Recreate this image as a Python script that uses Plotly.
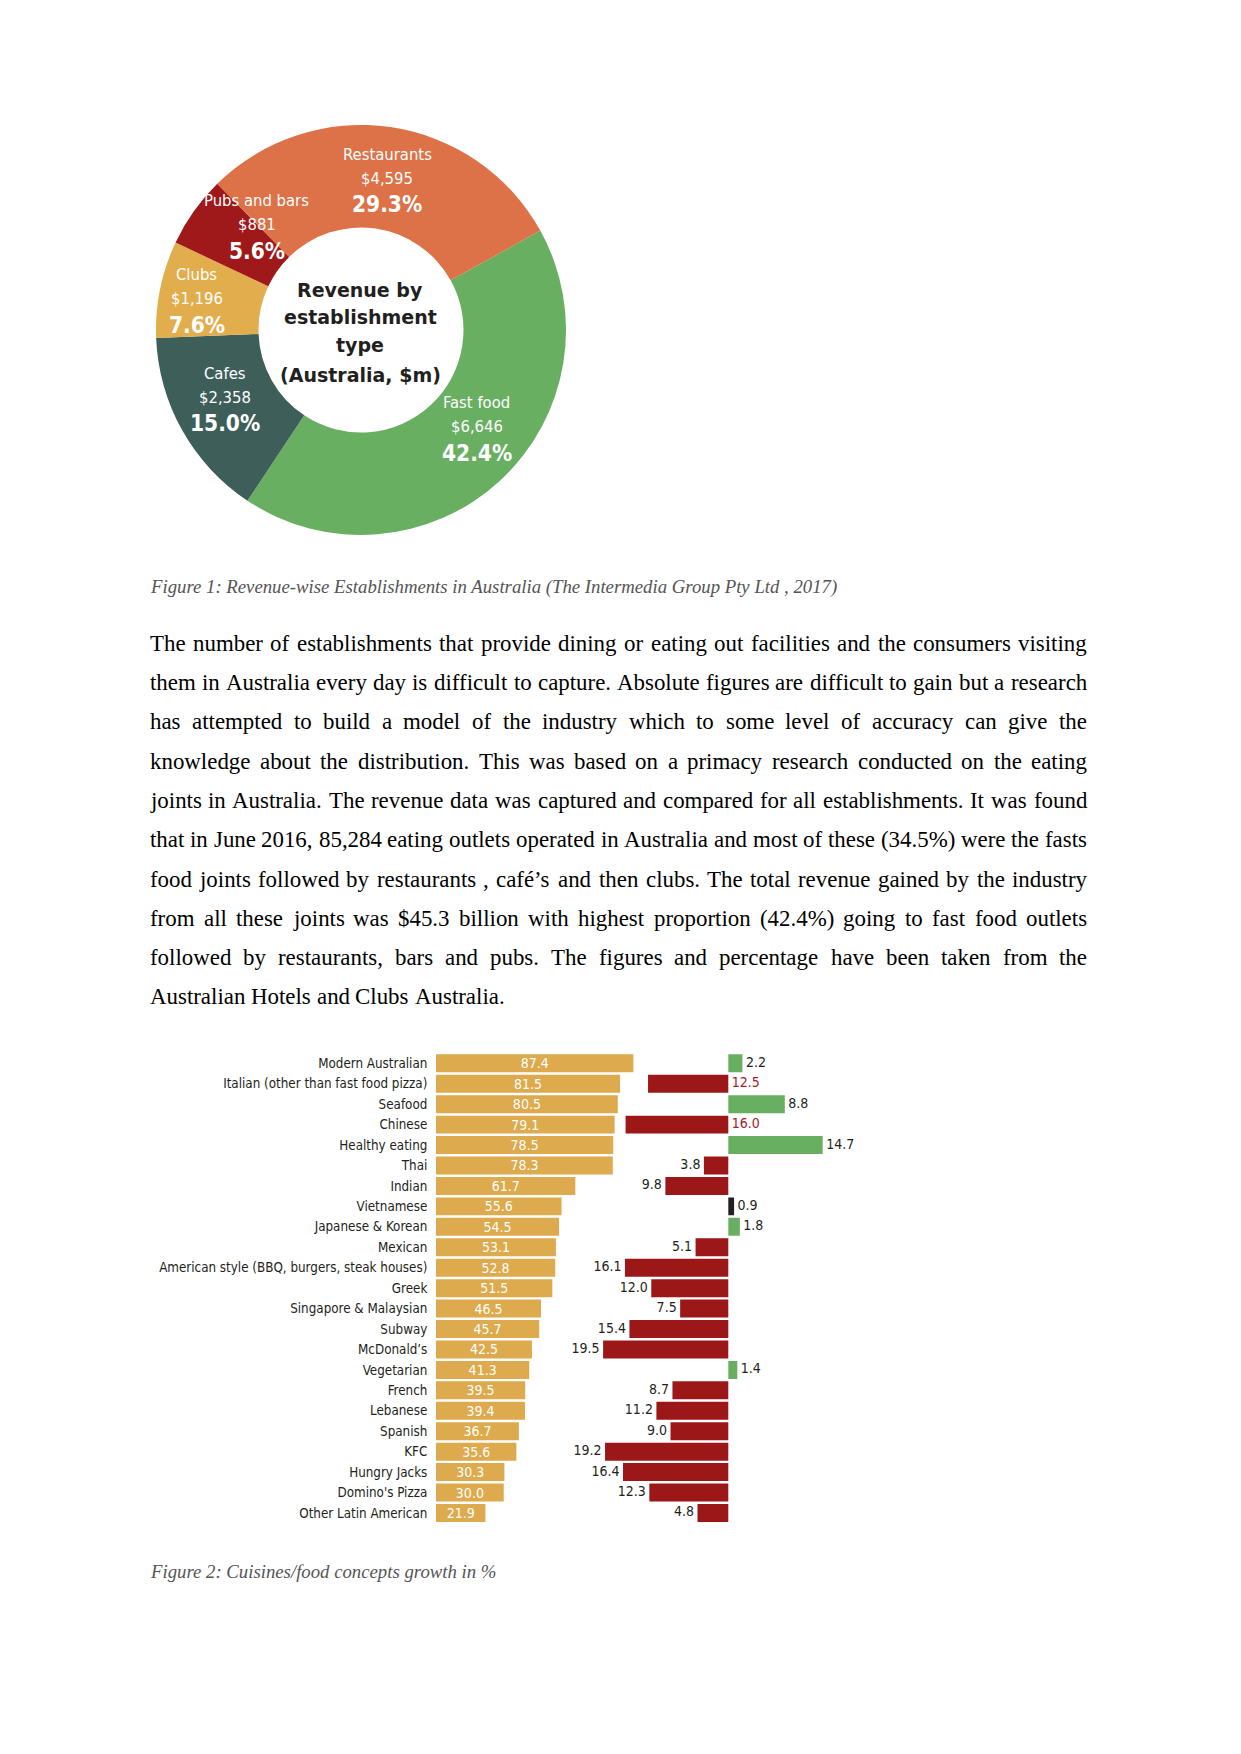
import math
import plotly.graph_objects as go

W, H = 1241, 1754

# ---------------- data ----------------
est_types = ["Fast food", "Cafes", "Clubs", "Pubs and bars", "Restaurants"]
est_revenue = [6646, 2358, 1196, 881, 4595]
donut_title = ["Revenue by", "establishment", "type", "(Australia, $m)"]

cuisines = ["Modern Australian", "Italian (other than fast food pizza)", "Seafood", "Chinese",
            "Healthy eating", "Thai", "Indian", "Vietnamese", "Japanese & Korean", "Mexican",
            "American style (BBQ, burgers, steak houses)", "Greek", "Singapore & Malaysian",
            "Subway", "McDonald’s", "Vegetarian", "French", "Lebanese", "Spanish", "KFC",
            "Hungry Jacks", "Domino's Pizza", "Other Latin American"]
cuisine_share = [87.4, 81.5, 80.5, 79.1, 78.5, 78.3, 61.7, 55.6, 54.5, 53.1, 52.8, 51.5, 46.5,
                 45.7, 42.5, 41.3, 39.5, 39.4, 36.7, 35.6, 30.3, 30.0, 21.9]
cuisine_growth = [2.2, -12.5, 8.8, -16.0, 14.7, -3.8, -9.8, 0.9, 1.8, -5.1, -16.1, -12.0, -7.5,
                  -15.4, -19.5, 1.4, -8.7, -11.2, -9.0, -19.2, -16.4, -12.3, -4.8]
growth_label_at_zero = ["Italian (other than fast food pizza)", "Chinese"]

caption1 = "Figure 1: Revenue-wise Establishments in Australia (The Intermedia Group Pty Ltd , 2017)"
caption2 = "Figure 2: Cuisines/food concepts growth in %"
paragraph_lines = [
    "The number of establishments that provide dining or eating out facilities and the consumers visiting",
    "them in Australia every day is difficult to capture. Absolute figures are difficult to gain but a research",
    "has attempted to build a model of the industry which to some level of accuracy can give the",
    "knowledge about the distribution. This was based on a primacy research conducted on the eating",
    "joints in Australia. The revenue data was captured and compared for all establishments. It was found",
    "that in June 2016, 85,284 eating outlets operated in Australia and most of these (34.5%) were the fasts",
    "food joints followed by restaurants , café’s and then clubs. The total revenue gained by the industry",
    "from all these joints was $45.3 billion with highest proportion (42.4%) going to fast food outlets",
    "followed by restaurants, bars and pubs. The figures and percentage have been taken from the",
    "Australian Hotels and Clubs Australia.",
]

# ---------------- styles ----------------
NARROW = "Liberation Sans Narrow, Arial Narrow, DejaVu Sans Condensed, sans-serif"
SERIF = "Liberation Serif, Times New Roman, serif"
DARK = "#231F20"
EST_COLORS = {"Fast food": "#69AF62", "Cafes": "#3E5E5A", "Clubs": "#E2AD4C",
              "Pubs and bars": "#A0191A", "Restaurants": "#DD7147"}
YELLOW, RED, GREEN = "#DDAA4D", "#9C1718", "#69AF62"
LABEL_RED = "#A3212B"

def px(x):
    return x / W

def py(y):
    return 1 - y / H

fig = go.Figure()
ann = []

# ---------------- donut ----------------
CX, CY, R = 361, 330, 205
ROT = 61
fig.add_trace(go.Pie(
    labels=est_types, values=est_revenue, sort=False, direction="clockwise", rotation=ROT,
    hole=0.5, textinfo="none", hoverinfo="skip", showlegend=False,
    marker=dict(colors=[EST_COLORS[t] for t in est_types], line=dict(width=0)),
    domain=dict(x=[px(CX - R), px(CX + R)], y=[py(CY + R), py(CY - R)]),
))

# label nudges (angle offset in degrees, radius in px)
nudge = {"Fast food": (-7.4, 151), "Cafes": (3.1, 152), "Clubs": (-0.8, 167),
         "Pubs and bars": (9.9, 148), "Restaurants": (1.5, 154)}
total = sum(est_revenue)
cum = ROT
for t, v in zip(est_types, est_revenue):
    span = v / total * 360
    mid = cum + span / 2
    cum += span
    da, r = nudge[t]
    a = math.radians(mid + da)
    lx = CX + r * math.sin(a)
    ly = CY - r * math.cos(a)
    for txt, dy, size, bold in [(t, -24, 16.5, False), (f"${v:,}", 0, 16.5, False),
                                (f"{v / total * 100:.1f}%", 26, 22.5, True)]:
        ann.append(dict(x=px(lx), y=py(ly + dy), xref="paper", yref="paper",
                        text=f"<b>{txt}</b>" if bold else txt, showarrow=False,
                        xanchor="center", yanchor="middle", borderpad=0, borderwidth=0,
                        font=dict(family=NARROW, size=size, color="white")))

for txt, yy in zip(donut_title, [290, 317, 345, 375]):
    ann.append(dict(x=px(CX - 1), y=py(yy), xref="paper", yref="paper", text=f"<b>{txt}</b>",
                    showarrow=False, xanchor="center", yanchor="middle", borderpad=0,
                    borderwidth=0, font=dict(family="DejaVu Sans, sans-serif", size=19, color=DARK)))

# ---------------- captions ----------------
for txt, yy in [(caption1, 586.7), (caption2, 1571.7)]:
    ann.append(dict(x=px(150), y=py(yy), xref="paper", yref="paper", text=f"<i>{txt}</i>",
                    showarrow=False, xanchor="left", yanchor="middle", borderpad=0, borderwidth=0,
                    font=dict(family=SERIF, size=18.75, color="#555555")))

# ---------------- justified paragraph ----------------
_w = {' ': 250, '!': 333, '$': 500, '%': 833, '&': 778, "'": 180, '(': 333, ')': 333, ',': 250,
      '-': 333, '.': 250, '/': 278, ':': 278, ';': 278, '?': 444, '’': 333, 'é': 444}
for c in "0123456789":
    _w[c] = 500
_w.update(zip("ABCDEFGHIJKLMNOPQRSTUVWXYZ",
              [722, 667, 667, 722, 611, 556, 722, 722, 333, 389, 722, 611, 889, 722, 722, 556,
               722, 667, 556, 611, 722, 722, 944, 722, 722, 611]))
_w.update(zip("abcdefghijklmnopqrstuvwxyz",
              [444, 500, 444, 500, 444, 333, 500, 500, 278, 278, 500, 278, 778, 500, 500, 500,
               500, 333, 389, 278, 500, 500, 722, 500, 500, 444]))
FS = 22.9
LEFT, RIGHT = 150, 1087
BASE0, LEAD = 651, 39.3

def tw(s):
    return sum(_w.get(c, 500) for c in s) / 1000 * FS

for i, line in enumerate(paragraph_lines):
    words = line.split(" ")
    widths = [tw(w_) for w_ in words]
    if i == len(paragraph_lines) - 1:
        gap = tw(" ")
    else:
        gap = (RIGHT - LEFT - sum(widths)) / (len(words) - 1)
    x = LEFT
    yc = BASE0 + i * LEAD - 0.3375 * FS
    for w_, wd in zip(words, widths):
        ann.append(dict(x=px(x), y=py(yc), xref="paper", yref="paper", text=w_, showarrow=False,
                        xanchor="left", yanchor="middle", borderpad=0, borderwidth=0,
                        font=dict(family=SERIF, size=FS, color="black")))
        x += wd + gap

# ---------------- bar charts ----------------
n = len(cuisines)
ROW_TOP, ROW_PITCH = 1063.3, 20.44
y_dom = [py(ROW_TOP + (n - 0.5) * ROW_PITCH), py(ROW_TOP - 0.5 * ROW_PITCH)]

L0, LSCALE, LMAX = 436, 2.258, 90
R0, RSCALE, RMIN, RMAX = 728.3, 6.42, -20, 16

fig.add_trace(go.Bar(
    y=cuisines, x=cuisine_share, orientation="h", marker=dict(color=YELLOW, line=dict(width=0)),
    text=[f"{v:.1f}" for v in cuisine_share], textposition="inside", insidetextanchor="middle",
    constraintext="none", textfont=dict(family=NARROW, size=14, color="white"),
    hoverinfo="skip", showlegend=False, xaxis="x", yaxis="y"))

growth_colors = [DARK if abs(g) < 1 else (GREEN if g > 0 else RED) for g in cuisine_growth]
fig.add_trace(go.Bar(
    y=cuisines, x=cuisine_growth, orientation="h",
    marker=dict(color=growth_colors, line=dict(width=0)),
    hoverinfo="skip", showlegend=False, xaxis="x2", yaxis="y2"))

lab_x, lab_pos, lab_col = [], [], []
for c, g in zip(cuisines, cuisine_growth):
    if c in growth_label_at_zero:
        lab_x.append(0); lab_pos.append("middle right"); lab_col.append(LABEL_RED)
    else:
        lab_x.append(g); lab_pos.append("middle right" if g > 0 else "middle left"); lab_col.append(DARK)
fig.add_trace(go.Scatter(
    y=cuisines, x=lab_x, mode="markers+text", text=[f"{abs(g):.1f}" for g in cuisine_growth],
    textposition=lab_pos, textfont=dict(family=NARROW, size=14, color=lab_col),
    marker=dict(size=4, opacity=0), cliponaxis=False, hoverinfo="skip", showlegend=False,
    xaxis="x2", yaxis="y2"))

yr = [n - 0.5, -0.5]
fig.update_layout(
    width=W, height=H, margin=dict(l=0, r=0, t=0, b=0, pad=0),
    paper_bgcolor="white", plot_bgcolor="rgba(0,0,0,0)", bargap=0.12, showlegend=False,
    xaxis=dict(domain=[px(L0), px(L0 + LSCALE * LMAX)], range=[0, LMAX], visible=False),
    yaxis=dict(domain=y_dom, type="category", categoryorder="array", categoryarray=cuisines,
               range=yr, showgrid=False, zeroline=False, showline=False, ticks="outside",
               ticklen=5, tickcolor="rgba(0,0,0,0)",
               tickfont=dict(family=NARROW, size=13.3, color=DARK)),
    xaxis2=dict(domain=[px(R0 + RSCALE * RMIN), px(R0 + RSCALE * RMAX)], range=[RMIN, RMAX],
                visible=False, anchor="y2"),
    yaxis2=dict(domain=y_dom, type="category", categoryorder="array", categoryarray=cuisines,
                range=yr, visible=False, anchor="x2"),
    annotations=ann,
)

fig.write_html("out.html", config={"displayModeBar": False},
               post_script="document.body.style.margin='0';")
